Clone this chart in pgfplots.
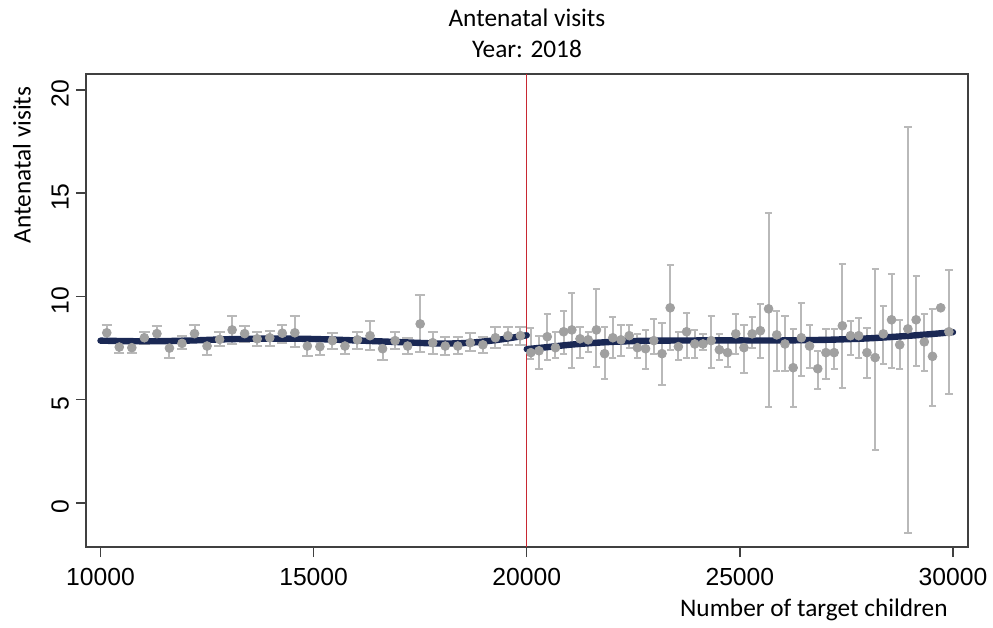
\documentclass[border=0pt]{standalone}
\usepackage{fontspec}
\setmainfont{Carlito}
\newfontfamily\arial{Liberation Sans}
\usepackage{pgfplots}
\usepackage{pgfplotstable}
\pgfplotsset{compat=1.18}
\definecolor{ptgray}{RGB}{160,160,160}
\definecolor{bargray}{RGB}{185,185,185}
\definecolor{navy}{RGB}{26,40,84}
\definecolor{xred}{RGB}{200,40,50}

\pgfplotstableread{
x y lo hi
10147 8.24 7.85 8.63
10441 7.55 7.28 7.90
10735 7.52 7.25 7.85
11029 8.00 7.70 8.30
11324 8.20 7.85 8.55
11618 7.50 7.00 7.95
11912 7.73 7.45 8.10
12206 8.20 7.85 8.60
12500 7.60 7.15 8.00
12794 7.92 7.60 8.30
13088 8.38 7.70 9.06
13382 8.20 7.80 8.55
13676 7.95 7.60 8.30
13971 8.00 7.60 8.35
14265 8.22 7.75 8.60
14559 8.24 7.55 9.06
14853 7.60 7.13 8.05
15147 7.57 7.15 8.00
15441 7.86 7.45 8.25
15735 7.60 7.20 8.00
16029 7.90 7.45 8.30
16324 8.10 7.40 8.80
16618 7.47 6.90 7.90
16912 7.86 7.45 8.30
17206 7.60 7.20 8.00
17500 8.67 7.30 10.07
17794 7.76 7.20 8.30
18088 7.60 7.15 8.05
18382 7.60 7.20 8.05
18676 7.76 7.35 8.25
18971 7.66 7.25 8.05
19265 8.00 7.50 8.50
19559 8.10 7.65 8.50
19853 8.10 7.65 8.50
}\leftdata

\pgfplotstableread{
x y lo hi
20096 7.28 6.99 8.48
20288 7.37 6.50 8.10
20481 8.05 6.90 9.16
20673 7.52 7.00 8.30
20865 8.29 7.20 9.30
21058 8.38 6.55 10.17
21250 7.95 7.00 8.50
21442 7.90 7.30 8.30
21635 8.38 6.60 10.36
21827 7.23 5.98 8.50
22019 8.00 7.00 9.00
22212 7.90 7.10 8.60
22404 8.10 7.50 8.60
22596 7.52 7.00 8.20
22788 7.47 6.50 8.40
22981 7.86 7.20 8.90
23173 7.23 5.70 8.70
23365 9.45 7.40 11.50
23558 7.57 6.90 8.30
23750 8.29 7.00 9.20
23942 7.70 7.00 8.40
24135 7.70 7.40 8.20
24327 7.86 6.55 9.06
24519 7.42 6.90 8.20
24712 7.28 6.60 8.00
24904 8.19 7.20 9.16
25096 7.52 6.27 8.60
25288 8.19 7.50 9.00
25481 8.34 7.04 9.64
25673 9.40 4.63 14.05
25865 8.14 6.40 9.30
26058 7.70 6.40 9.06
26250 6.55 4.63 8.43
26442 8.00 6.17 9.70
26635 7.60 6.55 8.63
26827 6.50 5.54 7.37
27019 7.28 6.02 8.43
27212 7.28 6.50 8.43
27404 8.58 5.59 11.57
27596 8.10 7.18 8.82
27788 8.10 7.04 8.96
27981 7.28 6.07 8.48
28173 7.04 2.55 11.33
28365 8.19 6.75 9.54
28558 8.87 6.55 11.08
28750 7.66 6.50 8.87
28942 8.43 -1.45 18.20
29135 8.87 6.65 11.00
29327 7.80 6.40 9.16
29519 7.10 4.72 9.40
29712 9.45 9.45 9.45
29904 8.29 5.30 11.28
}\rightdata

\pgfplotstableread{
x y
10000 7.86
11000 7.83
12000 7.86
13000 7.93
14000 7.96
15000 7.94
16000 7.87
17000 7.79
17500 7.75
18000 7.72
18500 7.74
19000 7.82
19500 7.95
20000 8.12
}\leftfit

\pgfplotstableread{
x y
20000 7.45
20500 7.55
21000 7.66
21500 7.74
22000 7.80
22500 7.84
23000 7.86
24000 7.87
25000 7.87
26000 7.87
27000 7.90
27500 7.93
28000 7.97
28500 8.03
29000 8.10
29500 8.18
30000 8.27
}\rightfit

\begin{document}
\begin{tikzpicture}
\path[use as bounding box] (-43bp,-40.5bp) rectangle (453.5bp,273.5bp);
\begin{axis}[
  at={(0,0)}, anchor=south west,
  scale only axis, width=441bp, height=236.5bp,
  xmin=9660, xmax=30352, ymin=-2.13, ymax=20.77,
  xtick={10000,15000,20000,25000,30000},
  ytick={0,5,10,15,20},
  scaled x ticks=false, scaled y ticks=false,
  xtick pos=bottom, ytick pos=left,
  tick align=outside,
  major tick length=5bp,
  every tick/.style={line width=0.75bp, black!75},
  axis line style={line width=0.8bp, black!75},
  /pgf/number format/1000 sep={},
  /pgf/number format/assume math mode=true,
  tick label style={font=\arial\fontsize{12.4}{14}\selectfont},
  xticklabel style={yshift=-2bp},
  yticklabel style={rotate=90, anchor=south, xshift=-2bp},
  clip=false,
]
\addplot[xred, line width=0.7bp] coordinates {(20000,-2.13) (20000,20.77)};

\addplot[only marks, mark=*, mark size=2.2bp, color=ptgray,
  error bars/.cd, y dir=both, y explicit, error mark=-,
  error bar style={line width=1bp, color=bargray},
  error mark options={rotate=90, line width=1bp, color=bargray, mark size=2.6bp}]
  table[x=x, y=y, y error plus expr=\thisrow{hi}-\thisrow{y}, y error minus expr=\thisrow{y}-\thisrow{lo}] {\leftdata};

\addplot[only marks, mark=*, mark size=2.2bp, color=ptgray,
  error bars/.cd, y dir=both, y explicit, error mark=-,
  error bar style={line width=1bp, color=bargray},
  error mark options={rotate=90, line width=1bp, color=bargray, mark size=1.8bp}]
  table[x=x, y=y, y error plus expr=\thisrow{hi}-\thisrow{y}, y error minus expr=\thisrow{y}-\thisrow{lo}] {\rightdata};

\addplot[navy, line width=3.2bp, smooth, line cap=round, mark=none] table[x=x,y=y] {\leftfit};
\addplot[navy, line width=3.2bp, smooth, line cap=round, mark=none] table[x=x,y=y] {\rightfit};

\node[anchor=base, font=\fontsize{12.7}{15}\selectfont] at (rel axis cs:0.5,1.101) {Antenatal visits};
\node[anchor=base, font=\fontsize{12.7}{15}\selectfont] at (rel axis cs:0.5,1.034) {Year: 2018};
\node[rotate=90, anchor=center, font=\fontsize{12.7}{15}\selectfont] at (rel axis cs:-0.0726,0.8076) {Antenatal visits};
\node[anchor=base east, inner sep=0pt, font=\fontsize{12.7}{15}\selectfont] at (rel axis cs:0.9773,-0.1459) {Number of target children};
\end{axis}
\end{tikzpicture}
\end{document}
